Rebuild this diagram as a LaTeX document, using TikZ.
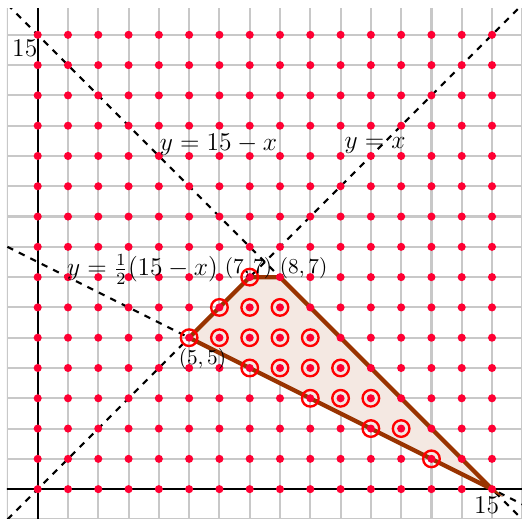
\documentclass[tikz,border=0pt]{standalone}
\definecolor{dotred}{RGB}{255,0,51}
\definecolor{ringred}{RGB}{255,0,0}
\definecolor{polybrown}{RGB}{153,51,0}
\definecolor{polyfill}{RGB}{244,232,226}
\definecolor{gridgray}{RGB}{200,200,200}
\tikzset{
  gridline/.style={draw=gridgray, line width=1pt},
  axisline/.style={draw=black, line width=1pt},
  guideline/.style={draw=black, dashed, line width=1pt},
  region/.style={fill=polyfill, draw=polybrown, line width=2pt},
  latdot/.style={fill=dotred},
  ring/.style={draw=ringred, line width=1.1pt},
  eqlabel/.style={inner sep=0pt, font=\large},
  ptlabel/.style={inner sep=0pt}
}
\begin{document}
\begin{tikzpicture}[x=0.5cm,y=0.5cm]
\useasboundingbox (-1.245,-0.958) rectangle (15.99,16.15);
\begin{scope}
  \clip (-1.02,-1.0) rectangle (16.0,15.88);
  \draw[gridline, step=0.5cm] (-1,-1) grid (16,16);
  \draw[axisline] (-1.1,0) -- (16.1,0);
  \draw[axisline] (0,-1.1) -- (0,16.1);
  \draw[guideline] (-1,-1) -- (16.2,16.2);
  \draw[guideline] (-1,16) -- (16.2,-1.2);
  \draw[guideline] (-1,8) -- (16.2,-0.6);
\end{scope}
\filldraw[region] (5,5) -- (7,7) -- (8,7) -- (15,0) -- cycle;
\foreach \p in {(7,7),(6,6),(7,6),(8,6),(5,5),(6,5),(7,5),(8,5),(9,5),
                (7,4),(8,4),(9,4),(10,4),(9,3),(10,3),(11,3),(11,2),(12,2),(13,1)}
  \draw[ring] \p circle (3.9pt);
\foreach \x in {0,...,15}
  \foreach \y in {0,...,15}
    \fill[latdot] (\x,\y) circle (1.9pt);
\node[eqlabel, anchor=base east] (l15y) at (0.0,14.27) {15};
\node[eqlabel, anchor=base] (l15x) at (14.82,-0.79) {15};
\node[eqlabel, anchor=base] (eqa) at (5.97,11.17) {$y=15-x$};
\node[eqlabel, anchor=base] (eqb) at (11.14,11.25) {$y=x$};
\node[eqlabel, anchor=base] (eqc) at (3.46,7.05) {$y=\frac{1}{2}(15-x)$};
\node[ptlabel, anchor=base] (p77) at (6.96,7.12) {$(7,7)$};
\node[ptlabel, anchor=base] (p87) at (8.78,7.12) {$(8,7)$};
\node[ptlabel, anchor=base] (p55) at (5.44,4.13) {$(5,5)$};
\end{tikzpicture}
\end{document}
